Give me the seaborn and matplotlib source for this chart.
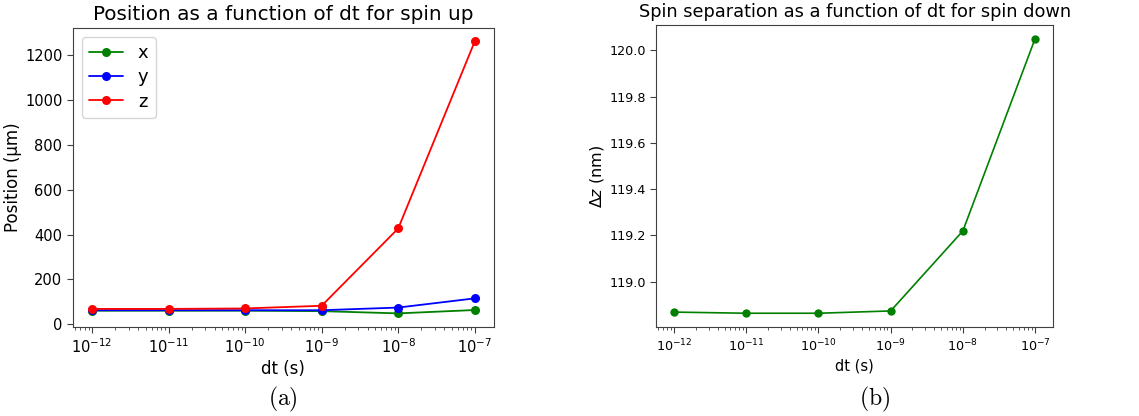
import numpy as np
import pandas as pd
import matplotlib
matplotlib.use("Agg")
import matplotlib.pyplot as plt
import seaborn as sns

# time steps (s)
dt = [1e-12, 1e-11, 1e-10, 1e-9, 1e-8, 1e-7]

# spin up position (um)
pos_x = [60, 60, 60, 58, 48, 63]
pos_y = [62, 62, 62, 62, 74, 115]
pos_z = [68, 68, 70, 82, 427, 1262]

# spin down separation (nm)
dz = [118.868, 118.863, 118.863, 118.873, 119.219, 120.05]

sns.set_style("ticks")
plt.rcParams['font.family'] = ['DejaVu Sans']
plt.rcParams['text.color'] = 'black'
plt.rcParams['axes.labelcolor'] = 'black'
plt.rcParams['xtick.color'] = 'black'
plt.rcParams['ytick.color'] = 'black'

df_pos = pd.DataFrame({
    'dt': dt * 3,
    'pos': pos_x + pos_y + pos_z,
    'axis': ['x'] * 6 + ['y'] * 6 + ['z'] * 6,
})
df_dz = pd.DataFrame({'dt': dt, 'dz': dz})

fig = plt.figure(figsize=(11.39, 4.16), dpi=100)
ax1 = fig.add_axes([0.064, 0.214, 0.3696, 0.719])
ax2 = fig.add_axes([0.576, 0.214, 0.3486, 0.726])

sns.lineplot(data=df_pos, x='dt', y='pos', hue='axis', marker='o',
             palette={'x': 'green', 'y': 'blue', 'z': 'red'},
             markersize=6.5, markeredgewidth=0, linewidth=1.3, ax=ax1)
ax1.set_xscale('log')
ax1.set_xlabel('dt (s)', fontsize=12, labelpad=3)
ax1.set_ylabel('Position (µm)', fontsize=12, labelpad=2)
ax1.set_title('Position as a function of dt for spin up', fontsize=14.4)
ax1.set_yticks([0, 200, 400, 600, 800, 1000, 1200])
ax1.tick_params(labelsize=10.5)
ax1.legend(loc='upper left', fontsize=13, handlelength=1.9, title=None,
           labelspacing=0.35)

sns.lineplot(data=df_dz, x='dt', y='dz', color='green', marker='o',
             markersize=6, markeredgewidth=0, linewidth=1.2, ax=ax2)
ax2.set_xscale('log')
ax2.set_xlabel('dt (s)', fontsize=10.5, labelpad=3)
ax2.set_ylabel(r'$\Delta z$ (nm)', fontsize=11.5, labelpad=2)
ax2.set_title('Spin separation as a function of dt for spin down', fontsize=12.8)
ax2.set_yticks([119.0, 119.2, 119.4, 119.6, 119.8, 120.0])
ax2.tick_params(labelsize=9.2)

for ax in (ax1, ax2):
    ax.set_xticks(dt)
    ax.tick_params(which='minor', length=2, width=0.6, color='0.25')
    ax.tick_params(which='major', length=4, width=0.8, color='0.25')
    for s in ax.spines.values():
        s.set_color('0.25')

fig.text(0.248, 0.025, r'$\mathrm{(a)}$', fontsize=17, ha='center',
         math_fontfamily='cm')
fig.text(0.768, 0.025, r'$\mathrm{(b)}$', fontsize=17, ha='center',
         math_fontfamily='cm')

fig.savefig('out.png', dpi=100)
